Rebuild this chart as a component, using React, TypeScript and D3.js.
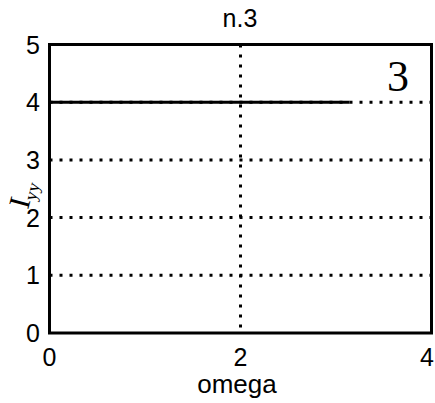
import React from "react";
import * as d3 from "d3";

// Response curve: constant level over omega in [0, pi]
const omega = [0, 0.5, 1, 1.5, 2, 2.5, 3, Math.PI];
const level = [4, 4, 4, 4, 4, 4, 4, 4];

const xTicks = [0, 2, 4];
const yTicks = [0, 1, 2, 3, 4, 5];
const yGrid = [1, 2, 3, 4];
const xGrid = [2];

const W = 435;
const H = 403;
const M = { left: 49.5, right: 431.5, top: 44.5, bottom: 333 };

export default function App() {
  const x = d3.scaleLinear().domain([0, 4]).range([M.left, M.right]);
  const y = d3.scaleLinear().domain([0, 5]).range([M.bottom, M.top]);

  const line = d3
    .line<number>()
    .x((_, i) => x(omega[i]))
    .y((d) => y(d));

  const sans = "Liberation Sans, Arial, sans-serif";
  const serif = "Liberation Serif, Times New Roman, serif";

  return (
    <svg
      width={W}
      height={H}
      style={{ position: "absolute", left: 0, top: 0, background: "#fff" }}
    >
      {/* grid */}
      {yGrid.map((v) => (
        <line
          key={"gy" + v}
          x1={M.left}
          x2={M.right}
          y1={y(v)}
          y2={y(v)}
          stroke="#000"
          strokeWidth={3}
          strokeDasharray="3 7"
        />
      ))}
      {xGrid.map((v) => (
        <line
          key={"gx" + v}
          x1={x(v)}
          x2={x(v)}
          y1={M.top}
          y2={M.bottom}
          stroke="#000"
          strokeWidth={3}
          strokeDasharray="3 7"
        />
      ))}

      {/* data */}
      <path d={line(level) || ""} fill="none" stroke="#000" strokeWidth={3} />

      {/* frame */}
      <rect
        x={M.left}
        y={M.top}
        width={M.right - M.left}
        height={M.bottom - M.top}
        fill="none"
        stroke="#000"
        strokeWidth={3}
      />

      {/* tick labels */}
      {yTicks.map((v) => (
        <text
          key={"ty" + v}
          x={40}
          y={y(v) + 9}
          textAnchor="end"
          fontFamily={sans}
          fontSize={25}
        >
          {v}
        </text>
      ))}
      {xTicks.map((v) => (
        <text
          key={"tx" + v}
          x={Math.min(x(v), 427)}
          y={366}
          textAnchor="middle"
          fontFamily={sans}
          fontSize={25}
        >
          {v}
        </text>
      ))}

      {/* title, axis labels */}
      <text x={240} y={27} textAnchor="middle" fontFamily={sans} fontSize={25}>
        n.3
      </text>
      <text x={237} y={393} textAnchor="middle" fontFamily={sans} fontSize={26}>
        omega
      </text>
      <g transform="translate(28,210) rotate(-75)">
        <text fontFamily={serif} fontSize={30}>
          I
          <tspan fontSize={18} dy={5}>
            yy
          </tspan>
        </text>
      </g>

      {/* panel number */}
      <text x={398} y={91} textAnchor="middle" fontFamily={serif} fontSize={44}>
        3
      </text>
    </svg>
  );
}
